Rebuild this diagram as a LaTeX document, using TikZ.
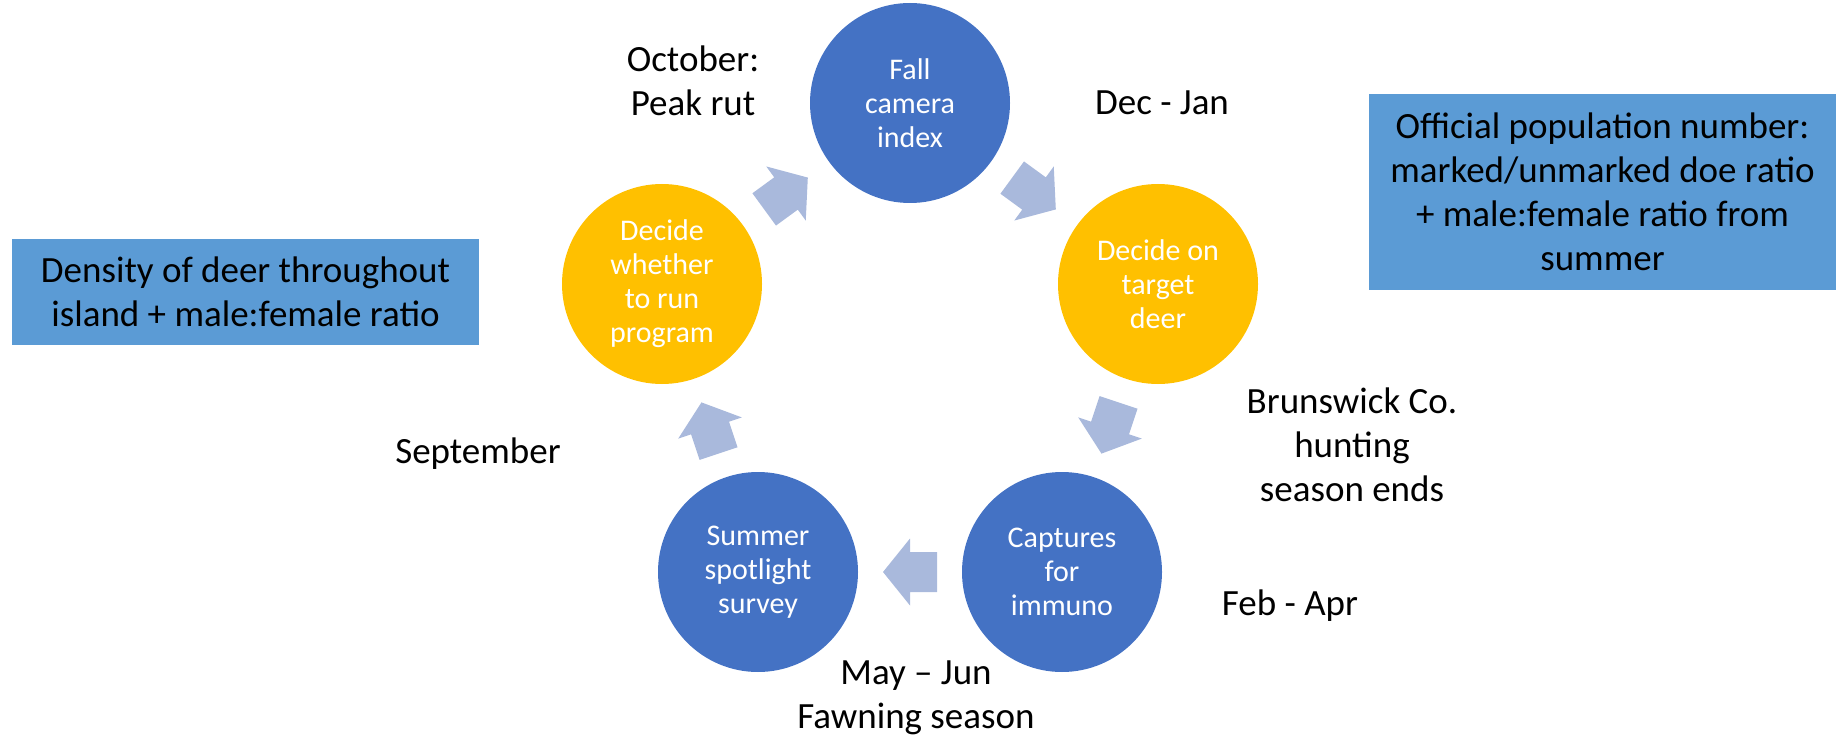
\documentclass[tikz,border=0pt]{standalone}
\usepackage{fontspec}
\setmainfont{Carlito}
\usetikzlibrary{calc}
\definecolor{cblue}{RGB}{68,114,196}
\definecolor{cgold}{RGB}{255,192,0}
\definecolor{cbox}{RGB}{91,155,213}
\definecolor{carrow}{RGB}{169,185,220}
\newcommand{\cyclearrow}[2]{%
  \coordinate (am) at ($(#1)!0.5!(#2)$);
  \coordinate (ab) at ($(am)!-27pt!(#2)$);
  \coordinate (at) at ($(am)!27pt!(#2)$);
  \fill[arrowfill] ($(ab)!20pt!90:(#2)$) -- ($(am)!20pt!90:(#2)$) -- ($(am)!33.5pt!90:(#2)$)
    -- (at) -- ($(am)!33.5pt!-90:(#2)$) -- ($(am)!20pt!-90:(#2)$) -- ($(ab)!20pt!-90:(#2)$) -- cycle;
}
\begin{document}
\begin{tikzpicture}[x=1pt,y=-1pt,
  stage/.style={circle, minimum size=200pt, inner sep=0pt, text=white, align=center,
    font=\fontsize{30pt}{34pt}\selectfont},
  bluestage/.style={stage, fill=cblue},
  goldstage/.style={stage, fill=cgold},
  note/.style={inner sep=0pt, align=center, font=\fontsize{37pt}{44pt}\selectfont},
  infobox/.style={rectangle, fill=cbox, inner sep=0pt, align=center, minimum width=467pt,
    font=\fontsize{37pt}{44pt}\selectfont},
  arrowfill/.style={fill=carrow}]
\useasboundingbox (0,0) rectangle (1837,738);
% stages
\node[bluestage] (fall) at (910,103) {Fall\\camera\\index};
\node[goldstage] (target) at (1158,284) {Decide on\\target\\deer};
\node[bluestage] (capt) at (1062,572) {Captures\\for\\immuno};
\node[bluestage] (summer) at (758,572) {Summer\\spotlight\\survey};
\node[goldstage] (decide) at (662,284) {Decide\\whether\\to run\\program};
% arrows
\cyclearrow{fall}{target}
\cyclearrow{target}{capt}
\cyclearrow{capt}{summer}
\cyclearrow{summer}{decide}
\cyclearrow{decide}{fall}
% labels
\node[note] (oct) at (693,81) {October:\\Peak rut};
\node[note, anchor=base] (decjan) at (1162,115) {Dec - Jan};
\node[note] (brun) at (1352,445) {Brunswick Co.\\hunting\\season ends};
\node[note, anchor=base] (febapr) at (1290,615) {Feb - Apr};
\node[note, anchor=base] (sept) at (478,463) {September};
\node[note] (may) at (916,698) {May – Jun\\Fawning season};
% info boxes
\node[infobox, minimum height=106pt] (density) at (245.5,292) {Density of deer throughout\\island + male:female ratio};
\node[infobox, minimum height=196pt] (official) at (1602.5,192) {Official population number:\\marked/unmarked doe ratio\\+ male:female ratio from\\summer};
\end{tikzpicture}
\end{document}
